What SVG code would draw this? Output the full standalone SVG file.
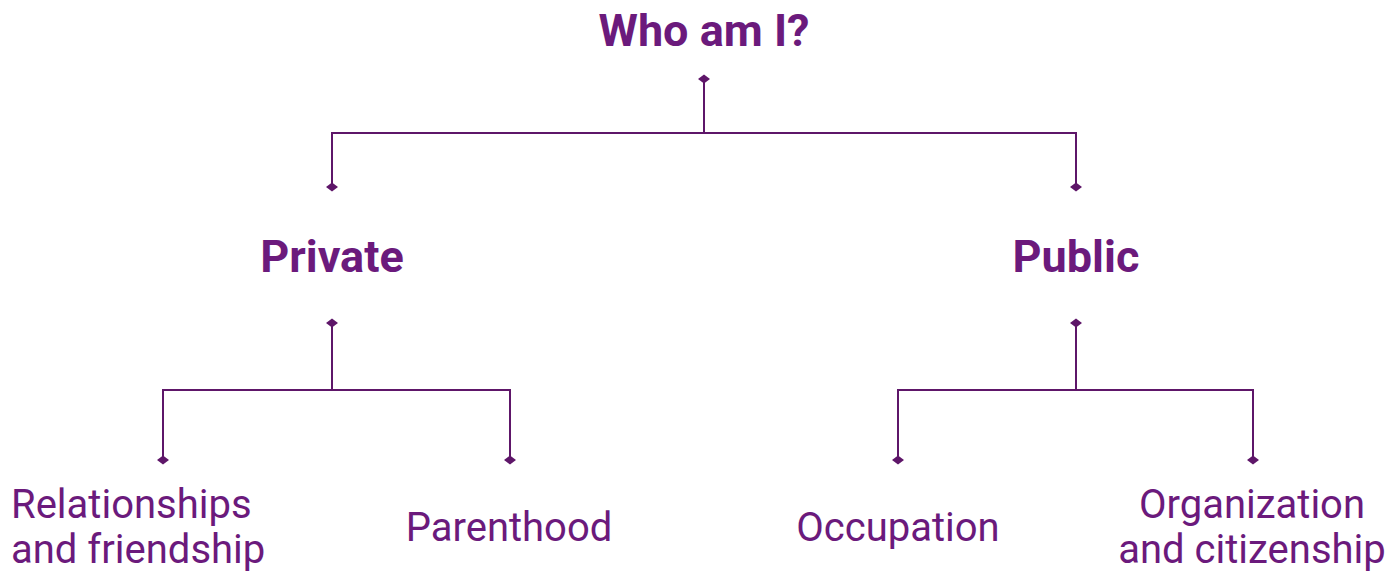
<svg xmlns="http://www.w3.org/2000/svg" width="1389" height="572" viewBox="0 0 1389 572">
<style>
.t{font-family:Roboto,"Liberation Sans",sans-serif;fill:#6b1a7c;text-anchor:middle}
.b{font-weight:bold;font-size:45px}
.r{font-size:40px}
.c{fill:none;stroke:#5e1669;stroke-width:2}
</style>
<defs>
<marker id="d" viewBox="-6 -7 12 14" markerWidth="12" markerHeight="14" refX="0" refY="0" markerUnits="userSpaceOnUse" orient="auto">
<path d="M0,-6 L4.5,0 L0,6 L-4.5,0 Z" fill="#5e1669"/>
</marker>
</defs>
<g id="connectors">
<path class="c" d="M704,79 V133" marker-start="url(#d)"/>
<path class="c" d="M332,187 V133 H1076 V187" marker-start="url(#d)" marker-end="url(#d)"/>
<path class="c" d="M332,323 V390" marker-start="url(#d)"/>
<path class="c" d="M163,460 V390 H510 V460" marker-start="url(#d)" marker-end="url(#d)"/>
<path class="c" d="M1076,323 V390" marker-start="url(#d)"/>
<path class="c" d="M898,460 V390 H1253 V460" marker-start="url(#d)" marker-end="url(#d)"/>
</g>
<g id="root"><text class="t b" x="704" y="46">Who am I?</text></g>
<g id="private"><text class="t b" x="332" y="272">Private</text></g>
<g id="public"><text class="t b" x="1076" y="272">Public</text></g>
<g id="relationships"><text class="t r" x="11" y="518" style="text-anchor:start">Relationships</text><text class="t r" x="11" y="563" style="text-anchor:start">and friendship</text></g>
<g id="parenthood"><text class="t r" x="509" y="541">Parenthood</text></g>
<g id="occupation"><text class="t r" x="898" y="541">Occupation</text></g>
<g id="organization"><text class="t r" x="1252" y="518">Organization</text><text class="t r" x="1252" y="563">and citizenship</text></g>
</svg>
